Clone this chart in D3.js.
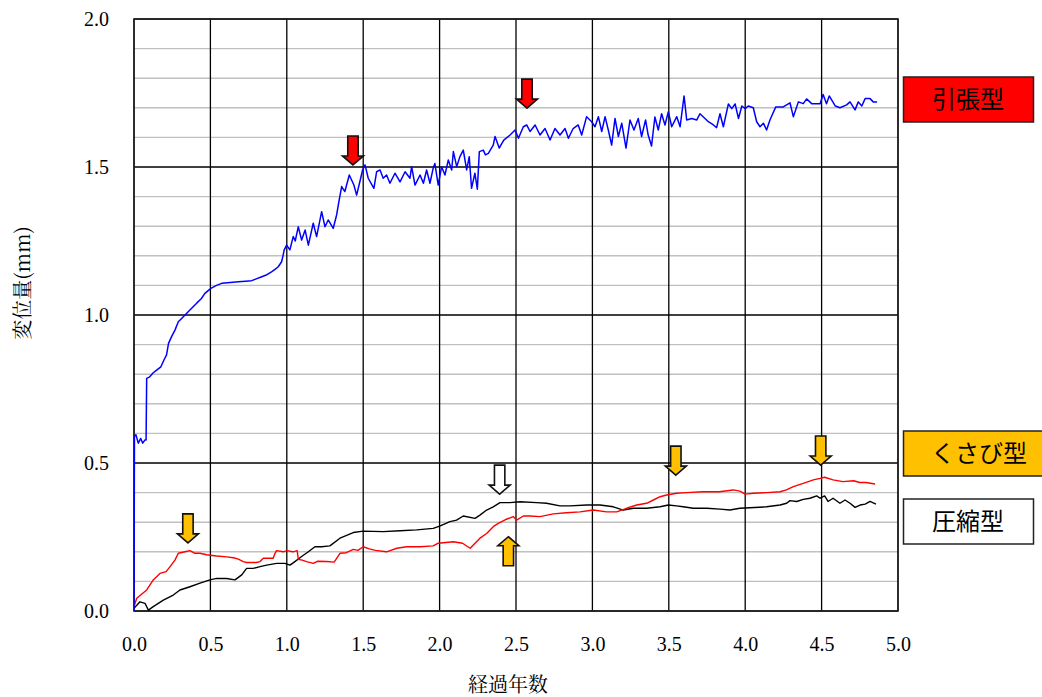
<!DOCTYPE html>
<html><head><meta charset="utf-8">
<script src="https://cdn.jsdelivr.net/npm/d3@7"></script>
<style>body{margin:0;background:#fff}</style>
</head><body><svg id="c" width="1042" height="697" style="position:absolute;left:0;top:0"></svg>
<script>
// ---- data ----
const xTicks = [0,0.5,1.0,1.5,2.0,2.5,3.0,3.5,4.0,4.5,5.0];
const yTicks = [0,0.5,1.0,1.5,2.0];
const yMinor = [0.1,0.2,0.3,0.4,0.6,0.7,0.8,0.9,1.1,1.2,1.3,1.4,1.6,1.7,1.8,1.9];
const seriesNames = ["引張型","くさび型","圧縮型"];
const tension = [[0,0],[0.003,0.59],[0.013,0.595],[0.028,0.567],[0.044,0.583],[0.057,0.567],[0.072,0.578],[0.079,0.578],[0.083,0.786],[0.1,0.79],[0.126,0.805],[0.148,0.814],[0.176,0.825],[0.196,0.848],[0.213,0.865],[0.226,0.904],[0.246,0.927],[0.268,0.949],[0.29,0.977],[0.323,0.994],[0.366,1.017],[0.41,1.04],[0.44,1.055],[0.464,1.073],[0.503,1.09],[0.54,1.1],[0.574,1.107],[0.63,1.11],[0.683,1.112],[0.73,1.114],[0.77,1.116],[0.80,1.122],[0.836,1.129],[0.87,1.136],[0.9,1.146],[0.925,1.155],[0.944,1.163],[0.966,1.18],[0.975,1.2],[0.983,1.22],[0.999,1.236],[1.02,1.22],[1.042,1.265],[1.055,1.25],[1.075,1.298],[1.097,1.253],[1.12,1.287],[1.141,1.236],[1.173,1.31],[1.195,1.265],[1.228,1.349],[1.25,1.298],[1.271,1.321],[1.304,1.293],[1.326,1.338],[1.343,1.389],[1.359,1.434],[1.38,1.417],[1.409,1.473],[1.424,1.456],[1.439,1.439],[1.457,1.405],[1.478,1.45],[1.496,1.49],[1.512,1.507],[1.533,1.462],[1.57,1.428],[1.588,1.484],[1.61,1.49],[1.631,1.462],[1.653,1.473],[1.675,1.445],[1.708,1.479],[1.741,1.45],[1.774,1.484],[1.806,1.462],[1.817,1.501],[1.839,1.439],[1.872,1.473],[1.894,1.445],[1.915,1.49],[1.937,1.445],[1.958,1.496],[1.969,1.512],[1.991,1.439],[2.013,1.501],[2.035,1.473],[2.057,1.524],[2.079,1.49],[2.09,1.552],[2.112,1.501],[2.133,1.535],[2.155,1.557],[2.177,1.49],[2.194,1.535],[2.209,1.428],[2.231,1.479],[2.247,1.425],[2.26,1.552],[2.286,1.557],[2.30,1.541],[2.319,1.546],[2.351,1.574],[2.363,1.603],[2.39,1.564],[2.42,1.591],[2.461,1.608],[2.494,1.625],[2.516,1.597],[2.548,1.636],[2.57,1.642],[2.592,1.62],[2.625,1.642],[2.657,1.608],[2.69,1.63],[2.723,1.591],[2.755,1.63],[2.788,1.608],[2.821,1.63],[2.843,1.597],[2.874,1.63],[2.907,1.642],[2.93,1.608],[2.962,1.67],[2.995,1.653],[3.017,1.636],[3.039,1.67],[3.061,1.62],[3.083,1.67],[3.104,1.625],[3.126,1.574],[3.148,1.664],[3.17,1.603],[3.192,1.648],[3.22,1.564],[3.246,1.659],[3.272,1.625],[3.3,1.664],[3.322,1.603],[3.348,1.659],[3.365,1.608],[3.387,1.571],[3.409,1.669],[3.431,1.625],[3.453,1.68],[3.475,1.642],[3.497,1.687],[3.519,1.636],[3.552,1.67],[3.574,1.636],[3.6,1.74],[3.617,1.659],[3.65,1.664],[3.683,1.659],[3.704,1.68],[3.737,1.664],[3.759,1.653],[3.792,1.642],[3.813,1.633],[3.835,1.68],[3.857,1.636],[3.89,1.713],[3.912,1.697],[3.934,1.713],[3.956,1.664],[3.978,1.706],[4.0,1.697],[4.02,1.706],[4.053,1.70],[4.075,1.653],[4.097,1.636],[4.119,1.648],[4.14,1.625],[4.162,1.659],[4.2,1.703],[4.249,1.703],[4.293,1.717],[4.315,1.67],[4.348,1.72],[4.38,1.714],[4.402,1.73],[4.435,1.714],[4.49,1.714],[4.51,1.745],[4.532,1.714],[4.55,1.74],[4.59,1.706],[4.62,1.70],[4.664,1.71],[4.686,1.72],[4.719,1.693],[4.74,1.72],[4.763,1.706],[4.785,1.731],[4.817,1.731],[4.838,1.72],[4.863,1.72]];
const wedge = [[0,0.015],[0.018,0.043],[0.083,0.071],[0.126,0.105],[0.17,0.127],[0.21,0.133],[0.236,0.15],[0.268,0.172],[0.29,0.195],[0.334,0.2],[0.366,0.204],[0.4,0.195],[0.432,0.195],[0.475,0.19],[0.541,0.186],[0.606,0.183],[0.65,0.18],[0.683,0.175],[0.715,0.167],[0.737,0.164],[0.8,0.164],[0.825,0.167],[0.846,0.178],[0.911,0.178],[0.923,0.195],[0.933,0.204],[0.977,0.2],[1.0,0.204],[1.04,0.2],[1.068,0.204],[1.075,0.175],[1.1,0.172],[1.13,0.167],[1.173,0.161],[1.2,0.168],[1.26,0.167],[1.31,0.165],[1.348,0.195],[1.39,0.197],[1.435,0.208],[1.465,0.205],[1.5,0.217],[1.54,0.21],[1.58,0.205],[1.653,0.2],[1.72,0.212],[1.784,0.217],[1.872,0.217],[1.958,0.22],[1.991,0.229],[2.09,0.234],[2.15,0.229],[2.2,0.212],[2.264,0.246],[2.308,0.262],[2.351,0.285],[2.384,0.296],[2.438,0.31],[2.482,0.319],[2.504,0.307],[2.548,0.321],[2.59,0.321],[2.657,0.319],[2.744,0.328],[2.83,0.332],[2.919,0.335],[3.006,0.341],[3.093,0.335],[3.159,0.335],[3.224,0.347],[3.29,0.358],[3.355,0.364],[3.399,0.375],[3.443,0.386],[3.486,0.392],[3.55,0.398],[3.615,0.4],[3.724,0.403],[3.83,0.403],[3.922,0.409],[3.965,0.405],[4.0,0.395],[4.055,0.398],[4.14,0.4],[4.228,0.403],[4.27,0.409],[4.315,0.42],[4.38,0.431],[4.446,0.443],[4.49,0.448],[4.52,0.452],[4.575,0.443],[4.64,0.437],[4.71,0.44],[4.75,0.434],[4.79,0.434],[4.85,0.429]];
const compress = [[0,0.009],[0.039,0.031],[0.072,0.026],[0.094,0.003],[0.126,0.015],[0.192,0.037],[0.257,0.054],[0.301,0.071],[0.366,0.082],[0.432,0.094],[0.497,0.105],[0.541,0.11],[0.606,0.11],[0.661,0.105],[0.705,0.122],[0.737,0.144],[0.78,0.144],[0.825,0.15],[0.868,0.155],[0.933,0.161],[0.988,0.161],[1.021,0.155],[1.053,0.167],[1.097,0.184],[1.141,0.2],[1.184,0.217],[1.228,0.217],[1.282,0.22],[1.348,0.246],[1.435,0.265],[1.5,0.27],[1.631,0.268],[1.741,0.271],[1.85,0.274],[1.958,0.279],[2.0,0.287],[2.068,0.302],[2.111,0.307],[2.155,0.321],[2.232,0.313],[2.264,0.324],[2.308,0.341],[2.351,0.352],[2.395,0.366],[2.46,0.366],[2.526,0.369],[2.635,0.366],[2.7,0.364],[2.788,0.355],[2.853,0.355],[2.962,0.358],[3.05,0.358],[3.137,0.352],[3.202,0.341],[3.268,0.347],[3.355,0.347],[3.443,0.352],[3.497,0.358],[3.55,0.355],[3.594,0.352],[3.66,0.347],[3.748,0.347],[3.835,0.344],[3.9,0.341],[3.965,0.347],[4.03,0.349],[4.14,0.352],[4.228,0.358],[4.271,0.364],[4.293,0.373],[4.337,0.37],[4.38,0.377],[4.424,0.381],[4.468,0.389],[4.49,0.381],[4.52,0.389],[4.542,0.37],[4.575,0.381],[4.62,0.364],[4.653,0.375],[4.686,0.364],[4.719,0.35],[4.752,0.358],[4.785,0.361],[4.817,0.37],[4.856,0.361]];
// annotation arrows: tip position (data units), direction, fill
const arrowX = [1.433, 2.572, 0.353, 3.546, 4.494, 2.45, 2.393];
const arrowY = [1.507, 1.699, 0.23, 0.459, 0.493, 0.251, 0.395];
const arrowDir = ["down","down","down","down","down","up","down"];
const arrowFill = ["#ff0000","#ff0000","#ffc000","#ffc000","#ffc000","#ffc000","#ffffff"];

// ---- chart ----
const svg = d3.select("#c");
const L=134, R=898, T=19, B=611;
const x = d3.scaleLinear().domain([0,5]).range([L,R]);
const y = d3.scaleLinear().domain([0,2]).range([B,T]);

svg.append("rect").attr("width",1042).attr("height",697).attr("fill","#fff");

// minor grid
svg.append("g").selectAll("line").data(yMinor).join("line")
  .attr("x1",L).attr("x2",R).attr("y1",d=>y(d)).attr("y2",d=>y(d))
  .attr("stroke","#c0c0c0").attr("stroke-width",1.4);
// major grid
svg.append("g").selectAll("line").data(yTicks).join("line")
  .attr("x1",L).attr("x2",R).attr("y1",d=>y(d)).attr("y2",d=>y(d))
  .attr("stroke","#000").attr("stroke-width",1.3);
svg.append("g").selectAll("line").data(xTicks).join("line")
  .attr("y1",T).attr("y2",B).attr("x1",d=>x(d)).attr("x2",d=>x(d))
  .attr("stroke","#000").attr("stroke-width",1.3);
// frame
svg.append("rect").attr("x",L).attr("y",T).attr("width",R-L).attr("height",B-T)
  .attr("fill","none").attr("stroke","#222").attr("stroke-width",1.6);

// axes labels via d3 axes
const xAxis = svg.append("g").attr("transform",`translate(0,${B})`)
  .call(d3.axisBottom(x).tickValues(xTicks).tickFormat(d3.format(".1f")).tickSize(0).tickPadding(26));
const yAxis = svg.append("g").attr("transform",`translate(${L},0)`)
  .call(d3.axisLeft(y).tickValues(yTicks).tickFormat(d3.format(".1f")).tickSize(0).tickPadding(25));
[xAxis,yAxis].forEach(a=>{
  a.attr("font-family","Liberation Serif").attr("font-size",20);
  a.select(".domain").remove();
  a.selectAll("text").attr("font-family","Liberation Serif").attr("font-size",20).attr("fill","#000");
});

// axis titles
svg.append("text").attr("x",508).attr("y",692).attr("text-anchor","middle")
  .attr("font-family","Noto Serif CJK JP").attr("font-size",20).attr("fill","#000").text("経過年数");
svg.append("text").attr("transform","translate(30,283) rotate(-90)").attr("text-anchor","middle")
  .attr("font-family","Noto Serif CJK JP").attr("font-size",20).attr("fill","#000").text("変位量(mm)");

// lines
svg.append("clipPath").attr("id","clp").append("rect").attr("x",L).attr("y",T-2).attr("width",R-L).attr("height",B-T+4);
const line = d3.line().x(d=>x(d[0])).y(d=>y(d[1]));
const g = svg.append("g").attr("clip-path","url(#clp)");
g.append("path").datum(compress).attr("d",line).attr("fill","none").attr("stroke","#000").attr("stroke-width",1.4).attr("stroke-linejoin","round");
g.append("path").datum(wedge).attr("d",line).attr("fill","none").attr("stroke","#ff0000").attr("stroke-width",1.4).attr("stroke-linejoin","round");
g.append("path").datum(tension).attr("d",line).attr("fill","none").attr("stroke","#0000ff").attr("stroke-width",1.5).attr("stroke-linejoin","round");

// annotation arrows
const H=29, hh=9, hw=10.5, sw=5.2;
arrowX.forEach((ax,i)=>{
  const cx=x(ax), ty=y(arrowY[i]), s = arrowDir[i]==="down" ? -1 : 1;
  const p = [[cx,ty],[cx+hw,ty+s*hh],[cx+sw,ty+s*hh],[cx+sw,ty+s*H],[cx-sw,ty+s*H],[cx-sw,ty+s*hh],[cx-hw,ty+s*hh]];
  svg.append("path").attr("d","M"+p.map(q=>q.join(",")).join("L")+"Z")
    .attr("fill",arrowFill[i]).attr("stroke","#111").attr("stroke-width",1.6).attr("stroke-linejoin","miter");
});

// legend boxes
const legFill = ["#ff0000","#ffc000","#ffffff"];
const legY = [77, 431, 499];
const legW = [130, 160, 130];
const legTx = [968, 979, 968];
seriesNames.forEach((n,i)=>{
  svg.append("rect").attr("x",903.5).attr("y",legY[i]).attr("width",legW[i]).attr("height",45)
    .attr("fill",legFill[i]).attr("stroke","#222").attr("stroke-width",1.5);
  svg.append("text").attr("x",legTx[i]).attr("y",legY[i]+31).attr("text-anchor","middle")
    .attr("font-family","Noto Sans CJK JP").attr("font-size",24).attr("fill","#000").text(n);
});
</script></body></html>
